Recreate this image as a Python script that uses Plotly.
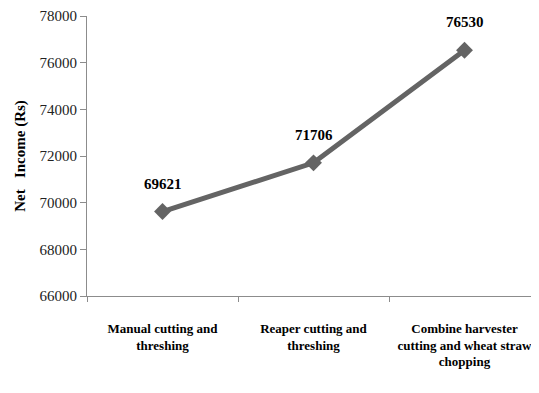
import plotly.graph_objects as go

categories = ["Manual cutting and<br>threshing",
              "Reaper cutting and<br>threshing",
              "Combine harvester<br>cutting and wheat straw<br>chopping"]
net_income = [69621, 71706, 76530]
y_ticks = [66000, 68000, 70000, 72000, 74000, 76000, 78000]

fig = go.Figure()
fig.add_trace(go.Scatter(
    x=categories, y=net_income, mode="lines+markers",
    line=dict(color="#646464", width=5),
    marker=dict(symbol="diamond", size=13, color="#646464"),
    showlegend=False, cliponaxis=False,
))
for c, v in zip(categories, net_income):
    fig.add_annotation(x=c, y=v, text="<b>%d</b>" % v, showarrow=False,
                       yshift=28, font=dict(family="Liberation Serif", size=15, color="black"))

fig.update_layout(
    width=539, height=393,
    margin=dict(l=79, r=7, t=8, b=105),
    paper_bgcolor="white", plot_bgcolor="white",
    font=dict(family="Liberation Serif", color="black"),
)
fig.update_xaxes(
    type="category", range=[-0.5, 2.5], automargin=False, tickangle=0,
    showline=True, linecolor="#8c8c8c", linewidth=1,
    showgrid=False, ticks="outside", tickson="boundaries", ticklen=5, tickcolor="#8c8c8c",
    ticklabelstandoff=20,
    tickfont=dict(family="Liberation Serif", size=13, color="black", weight="bold"),
)
fig.update_yaxes(
    range=[66000, 78000], tickvals=y_ticks, ticktext=[str(t) for t in y_ticks], automargin=False,
    ticklabeloverflow="allow",
    showline=True, linecolor="#8c8c8c", linewidth=1,
    showgrid=False, zeroline=False, ticks="outside", ticklen=6, tickcolor="#8c8c8c",
    tickfont=dict(family="Liberation Serif", size=15, color="#222222"),
    title=dict(text="<b>Net   Income (Rs)</b>", font=dict(family="Liberation Serif", size=15, color="black"), standoff=10),
)
fig.write_html("out.html")
